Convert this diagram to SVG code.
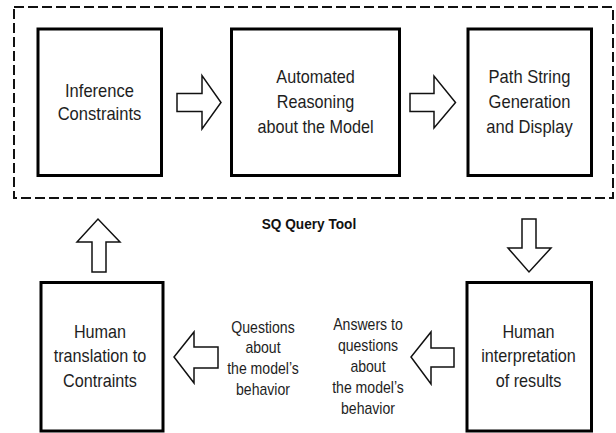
<svg xmlns="http://www.w3.org/2000/svg" width="616" height="433" viewBox="0 0 616 433">
<style>
.bg{fill:#ffffff}
.box{fill:#ffffff;stroke:#000;stroke-width:3}
.dash{fill:none;stroke:#111;stroke-width:2;stroke-dasharray:10 4}
.arr{fill:#ffffff;stroke:#111;stroke-width:1.5;stroke-linejoin:miter}
.t{font-family:"Liberation Sans",Arial,sans-serif;font-size:18px;fill:#1e1e1e;text-anchor:middle}
.l{font-family:"Liberation Sans",Arial,sans-serif;font-size:16px;fill:#1e1e1e;text-anchor:middle}
.b{font-family:"Liberation Sans",Arial,sans-serif;font-size:15px;font-weight:bold;fill:#111;text-anchor:middle}
</style>
<rect class="bg" x="0" y="0" width="616" height="433"/>
<g id="sq-query-tool">
<rect class="dash" x="14" y="7" width="599" height="191"/>
<text class="b" transform="translate(309,229) scale(0.91,1)" x="0" y="0">SQ Query Tool</text>
</g>
<g id="inference-constraints">
<rect class="box" x="38" y="29" width="123.5" height="146.5"/>
<g transform="translate(99.5,0) scale(0.92,1)">
<text class="t" x="0" y="97">Inference</text>
<text class="t" x="0" y="120">Constraints</text>
</g>
</g>
<g id="automated-reasoning">
<rect class="box" x="231.5" y="29" width="168" height="146.5"/>
<g transform="translate(315.5,0) scale(0.9,1)">
<text class="t" x="0" y="83">Automated</text>
<text class="t" x="0" y="108">Reasoning</text>
<text class="t" x="0" y="133">about the Model</text>
</g>
</g>
<g id="path-string">
<rect class="box" x="468" y="29" width="123.5" height="146.5"/>
<g transform="translate(529.5,0) scale(0.92,1)">
<text class="t" x="0" y="83">Path String</text>
<text class="t" x="0" y="108">Generation</text>
<text class="t" x="0" y="133">and Display</text>
</g>
</g>
<g id="human-translation">
<rect class="box" x="41" y="282.5" width="122" height="148.5"/>
<g transform="translate(100,0) scale(0.9,1)">
<text class="t" x="0" y="338">Human</text>
<text class="t" x="0" y="362.5">translation to</text>
<text class="t" x="0" y="387">Contraints</text>
</g>
</g>
<g id="human-interpretation">
<rect class="box" x="467" y="282.5" width="124.5" height="148.5"/>
<g transform="translate(528.5,0) scale(0.9,1)">
<text class="t" x="0" y="338">Human</text>
<text class="t" x="0" y="362.5">interpretation</text>
<text class="t" x="0" y="387">of results</text>
</g>
</g>
<g id="connectors">
<polygon class="arr" points="177,93.5 202,93.5 202,75.5 221,102.5 202,129 202,111.5 177,111.5"/>
<polygon class="arr" points="410,93.5 434,93.5 434,76 455.5,102.5 434,128 434,111.5 410,111.5"/>
<polygon class="arr" points="522,219 536,219 536,248 551,248 529,272 508,248 522,248"/>
<polygon class="arr" points="92,272 106,272 106,242 120,242 98,219 77,242 92,242"/>
<polygon class="arr" points="218,347 194,347 194,332 174,357 194,383 194,368 218,368"/>
<polygon class="arr" points="454,348 431,348 431,332 411,357 431,384 431,367 454,367"/>
<g transform="translate(263,0) scale(0.88,1)">
<text class="l" x="0" y="333">Questions</text>
<text class="l" x="0" y="353.5">about</text>
<text class="l" x="0" y="374">the model’s</text>
<text class="l" x="0" y="395">behavior</text>
</g>
<g transform="translate(368,0) scale(0.88,1)">
<text class="l" x="0" y="330.5">Answers to</text>
<text class="l" x="0" y="351">questions</text>
<text class="l" x="0" y="372">about</text>
<text class="l" x="0" y="393">the model’s</text>
<text class="l" x="0" y="414">behavior</text>
</g>
</g>
</svg>
